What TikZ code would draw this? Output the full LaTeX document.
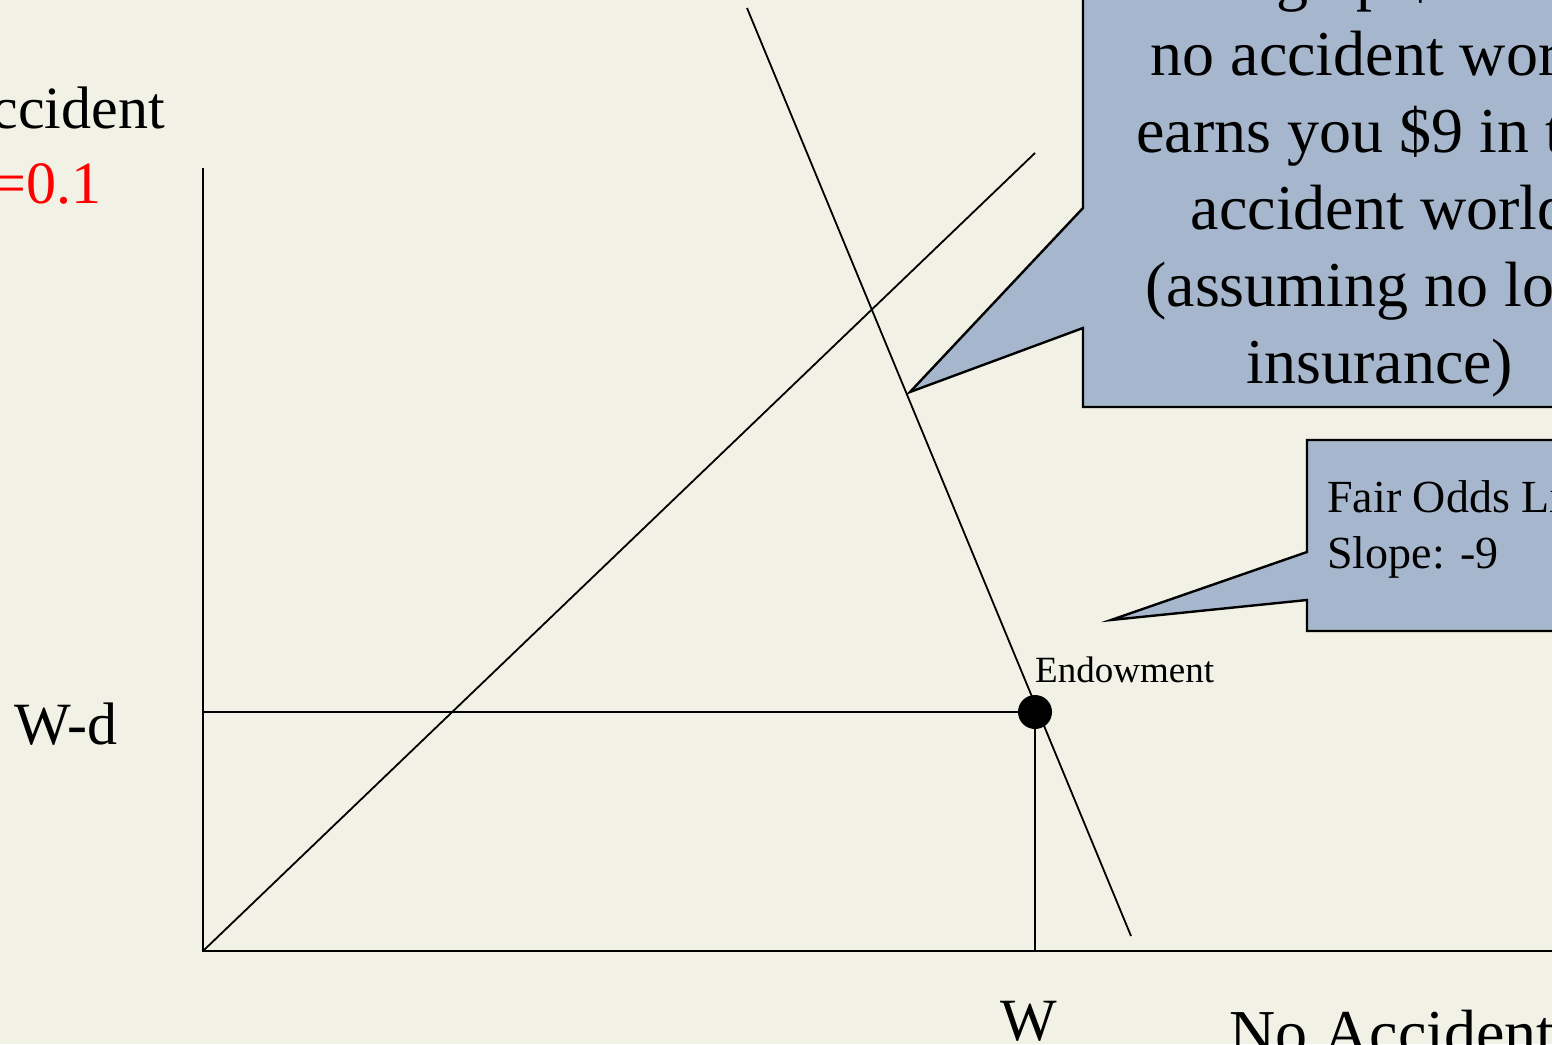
\documentclass[tikz,border=0pt]{standalone}
\usepackage{fontspec}
\setmainfont{Liberation Serif}
\definecolor{bg}{HTML}{F2F1E6}
\definecolor{callout}{HTML}{A6B7CD}
\begin{document}
\begin{tikzpicture}[x=1pt,y=-1pt,
  thinline/.style={line width=1.8pt},
  axis/.style={line width=2.6pt},
  calloutbox/.style={fill=callout,draw=black,line width=2.4pt,line join=miter},
  biglabel/.style={inner sep=0pt,font=\fontsize{60}{72}\selectfont},
  bigtext/.style={inner sep=0pt,align=center,font=\fontsize{64}{77}\selectfont},
  smalltext/.style={inner sep=0pt,align=left,font=\fontsize{46}{56}\selectfont}]
\useasboundingbox (0,0) rectangle (1552,1044);
\clip (0,0) rectangle (1552,1044);
\fill[bg] (0,0) rectangle (1552,1044);

% coordinates
\coordinate (O) at (203,951);
\coordinate (ytop) at (203,168);
\coordinate (xend) at (1600,951);
\coordinate (E) at (1035,712);
\coordinate (Wd) at (203,712);
\coordinate (Wx) at (1035,951);
\coordinate (diagEnd) at (1035,153);
\coordinate (foTop) at (747,8);
\coordinate (foBot) at (1131,936);

% axes
\draw[axis] (ytop) -- (O) -- (xend);
% certainty line
\draw[thinline] (O) -- (diagEnd);
% fair odds line
\draw[thinline] (foTop) -- (foBot);
% endowment guides
\draw[thinline] (Wd) -- (E) -- (Wx);
\node[circle,fill=black,inner sep=0pt,minimum size=34pt] (dot) at (E) {};

% big callout
\coordinate (tipA) at (910,392);
\draw[calloutbox] (1083,-100) -- (1083,208) -- (tipA) -- (1083,328) -- (1083,407) -- (1700,407) -- (1700,-100) -- cycle;
\node[bigtext,anchor=base] (bigtxt) at (1380,383) {Giving up \$1 in the\\no accident world\\earns you \$9 in the\\accident world\\(assuming no load\\insurance)};

% small callout
\coordinate (tipB) at (1111,620);
\draw[calloutbox] (1307,440) -- (1307,552) -- (tipB) -- (1307,600) -- (1307,631) -- (1700,631) -- (1700,440) -- cycle;
\node[smalltext,anchor=base west] (fairtxt) at (1327,568) {Fair Odds Line\\Slope: -9};

% labels
\node[inner sep=0pt,anchor=base west,font=\fontsize{37}{44}\selectfont] (endow) at (1035,682) {Endowment};
\node[biglabel,anchor=base east] (acc) at (165,128) {Accident};
\node[biglabel,anchor=base east,text=red] (prob) at (102,203) {π=0.1};
\node[biglabel,anchor=base west] (wdlab) at (14,744) {W-d};
\node[biglabel,anchor=base west] (wlab) at (1000,1040) {W};
\node[inner sep=0pt,anchor=base west,font=\fontsize{64}{77}\selectfont] (nolab) at (1229,1054) {No Accident};
\end{tikzpicture}
\end{document}
